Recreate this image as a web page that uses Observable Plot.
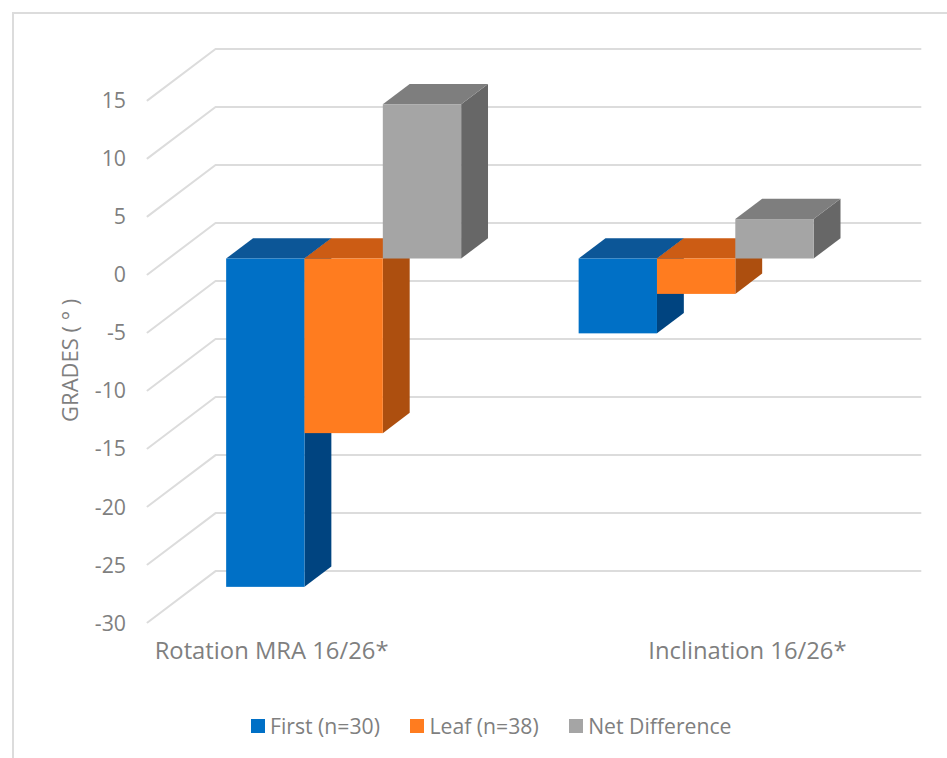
<!DOCTYPE html>
<html>
<head>
<meta charset="utf-8">
<script src="https://cdn.jsdelivr.net/npm/d3@7"></script>
<script src="https://cdn.jsdelivr.net/npm/@observablehq/plot@0.6"></script>
<style>
  html, body { margin: 0; padding: 0; background: #fff; overflow: hidden; height: 758px; }
  body::before {
    content: ""; position: absolute; left: 12px; top: 12px; right: 0; bottom: 0;
    border-left: 2px solid #dcdcdc; border-top: 2px solid #dcdcdc;
  }
  #chart { position: relative; width: 947px; }
  #chart svg { display: block; }
  #legend { position: absolute; left: 251px; top: 709px; }
  #legend [class$="-swatch"] { margin-right: 30.5px !important; }
  #legend svg { margin-right: 5px !important; }
</style>
</head>
<body>
<div id="chart"></div>
<script>
// Mean angular change per tooth measure, in degrees
const categories = ["Rotation MRA 16/26*", "Inclination 16/26*"];
const series = ["First (n=30)", "Leaf (n=38)", "Net Difference"];
const firstValues = [-28.3, -6.45];
const leafValues = [-15.05, -3.05];
const netValues = [13.3, 3.4];
const yTicks = [15, 10, 5, 0, -5, -10, -15, -20, -25, -30];

const frontColors = ["#0070c6", "#ff7c1f", "#a5a5a5"];
const topColors = ["#0c5697", "#cc5c14", "#7e7e7e"];
const sideColors = ["#004480", "#ad4f0f", "#676767"];

const font = "'Open Sans', sans-serif";
const textColor = "#7f7f7f";

// Oblique projection: moving from the front of the box to its back wall
// shifts a point by depthX categories and depthY degrees.
const depthX = 0.193;
const depthY = 4.43;
const zFront = 0.3;
const zBack = 0.695;
const barWidth = 1 / 4.5; // three bars plus a 150% gap per category

const valuesBySeries = [firstValues, leafValues, netValues];

const bars = series.flatMap((name, s) =>
  categories.map((category, g) => {
    const value = valuesBySeries[s][g];
    const left = g + 0.5 - 1.5 * barWidth + s * barWidth;
    return {
      name, s, g, category,
      x1: left + zFront * depthX,
      x2: left + barWidth + zFront * depthX,
      hi: Math.max(0, value) + zFront * depthY,
      lo: Math.min(0, value) + zFront * depthY
    };
  })
);

const dz = zBack - zFront;

// Right-hand face of one bar, as a band that rises with depth
const sideFace = (b) => [
  {id: b.g, x: b.x2, y1: b.lo, y2: b.hi},
  {id: b.g, x: b.x2 + dz * depthX, y1: b.lo + dz * depthY, y2: b.hi + dz * depthY}
];

// Upper face of one bar, as a band that slants with depth
const topFace = (b) => [
  {id: b.g, y: b.hi, x1: b.x1, x2: b.x2},
  {id: b.g, y: b.hi + dz * depthY, x1: b.x1 + dz * depthX, x2: b.x2 + dz * depthX}
];

// Side-wall diagonal and back-wall line for each gridline
const gridLines = yTicks.flatMap((v) => [
  {v, x: 0, y: v},
  {v, x: depthX, y: v + depthY},
  {v, x: 2 + depthX, y: v + depthY}
]);

const barMarks = series.flatMap((name, s) => {
  const own = bars.filter((b) => b.s === s);
  return [
    Plot.areaY(own.flatMap(sideFace), {x: "x", y1: "y1", y2: "y2", z: "id", fill: sideColors[s]}),
    Plot.areaX(own.flatMap(topFace), {y: "y", x1: "x1", x2: "x2", z: "id", fill: topColors[s]}),
    Plot.rect(own, {x1: "x1", x2: "x2", y1: "lo", y2: "hi", fill: "name"})
  ];
});

const categoryLabelX = [0.352, 1.702];

const plot = Plot.plot({
  width: 947,
  height: 705,
  marginLeft: 147,
  marginRight: 27,
  marginTop: 48.5,
  marginBottom: 83,
  style: {fontFamily: font, background: "transparent", overflow: "visible"},
  x: {domain: [0, 2 + depthX], axis: null},
  y: {domain: [-30, 15 + depthY], axis: null},
  color: {domain: series, range: frontColors},
  marks: [
    Plot.line(gridLines, {x: "x", y: "y", z: "v", stroke: "#dcdcdc", strokeWidth: 2, curve: "linear"}),
    Plot.axisY({
      ticks: yTicks,
      tickSize: 0,
      tickPadding: 21.5,
      tickFormat: (d) => String(d),
      label: null,
      fontSize: 21.3,
      dy: 1.2,
      color: textColor
    }),
    ...barMarks,
    Plot.text(categories, {
      x: (d, i) => categoryLabelX[i],
      y: -30,
      dy: 29,
      text: (d) => d,
      fontSize: 23.8,
      fill: textColor
    }),
    Plot.text(["GRADES ( ° )"], {
      x: 0,
      y: -7.4,
      dx: -77,
      rotate: -90,
      text: (d) => d,
      fontSize: 22,
      fill: textColor
    })
  ]
});

const legend = plot.legend("color", {
  swatchSize: 14,
  style: {fontFamily: font, fontSize: "21.2px", color: textColor}
});
legend.id = "legend";

const chart = document.getElementById("chart");
chart.append(plot, legend);
</script>
</body>
</html>
